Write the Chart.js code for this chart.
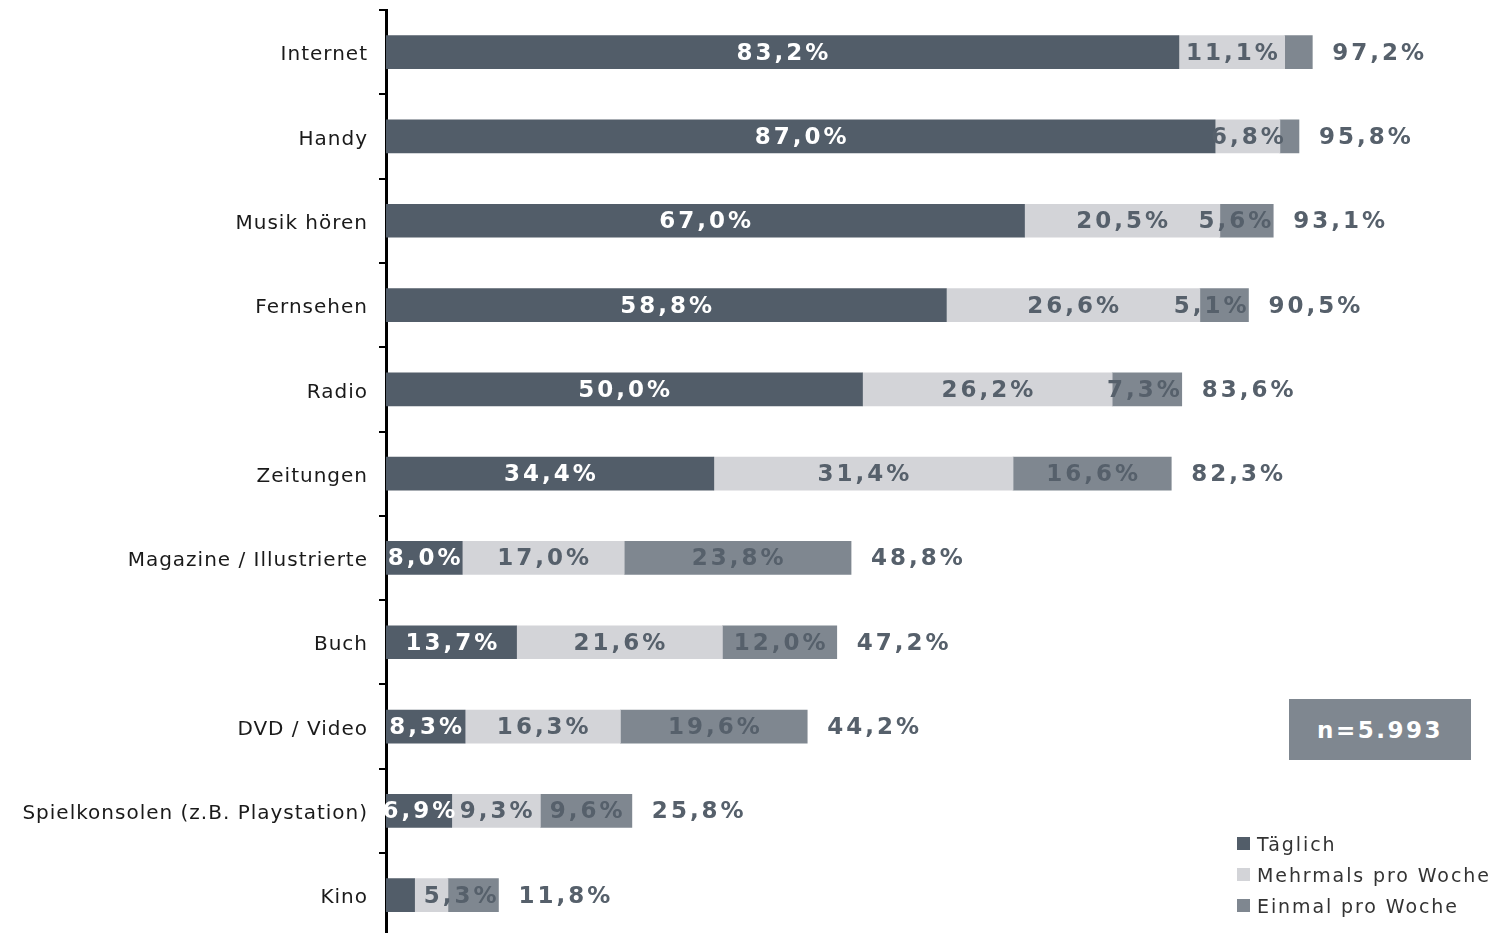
<!DOCTYPE html>
<html>
<head>
<meta charset="utf-8">
<script src="https://cdn.jsdelivr.net/npm/chart.js@4"></script>
<style>
  html, body { margin: 0; padding: 0; background: #fff; overflow: hidden; }
  #wrap { position: relative; width: 1495px; height: 940px; }
  #nbox { position: absolute; left: 1289px; top: 699px; width: 182px; height: 61px;
    background: #7F8790; color: #fff; font: bold 23px "DejaVu Sans", sans-serif; letter-spacing: 2.5px;
    display: flex; align-items: center; justify-content: center; }
  #legend { position: absolute; left: 1237px; top: 828px; font: 19px "DejaVu Sans", sans-serif;
    letter-spacing: 1.9px; color: #333; white-space: nowrap; }
  .li { height: 31px; display: flex; align-items: center; }
  .sw { width: 13px; height: 13px; margin-right: 7px; flex: none; }
</style>
</head>
<body>
<div id="wrap">
  <canvas id="c" width="1495" height="940"></canvas>
  <div id="nbox">n=5.993</div>
  <div id="legend"></div>
</div>
<script>
const categories = ['Internet', 'Handy', 'Musik hören', 'Fernsehen', 'Radio', 'Zeitungen',
  'Magazine / Illustrierte', 'Buch', 'DVD / Video', 'Spielkonsolen (z.B. Playstation)', 'Kino'];
const seriesNames = ['Täglich', 'Mehrmals pro Woche', 'Einmal pro Woche'];
const taeglich = [83.2, 87.0, 67.0, 58.8, 50.0, 34.4, 8.0, 13.7, 8.3, 6.9, 3.0];
const mehrmals = [11.1, 6.8, 20.5, 26.6, 26.2, 31.4, 17.0, 21.6, 16.3, 9.3, 3.5];
const einmal = [2.9, 2.0, 5.6, 5.1, 7.3, 16.6, 23.8, 12.0, 19.6, 9.6, 5.3];
const totals = [97.2, 95.8, 93.1, 90.5, 83.6, 82.3, 48.8, 47.2, 44.2, 25.8, 11.8];

const colors = ['#525D69', '#D3D4D8', '#7F8790'];
const labelGray = '#56606B';

function fmt(v) { return v.toFixed(1).replace('.', ',') + '%'; }

// HTML legend
const legend = document.getElementById('legend');
seriesNames.forEach((n, i) => {
  const row = document.createElement('div');
  row.className = 'li';
  const sw = document.createElement('span');
  sw.className = 'sw';
  sw.style.background = colors[i];
  const t = document.createElement('span');
  t.textContent = n;
  row.appendChild(sw); row.appendChild(t);
  legend.appendChild(row);
});

const spacingPlugin = {
  id: 'spacing',
  beforeDraw(chart) { chart.ctx.letterSpacing = '1px'; }
};

const labelPlugin = {
  id: 'valueLabels',
  afterDatasetsDraw(chart) {
    const ctx = chart.ctx;
    ctx.save();
    ctx.font = 'bold 23px "DejaVu Sans"';
    ctx.letterSpacing = '3px';
    ctx.textBaseline = 'middle';
    chart.data.datasets.forEach((ds, i) => {
      const meta = chart.getDatasetMeta(i);
      meta.data.forEach((el, j) => {
        const v = ds.data[j];
        if (v < 4) return;
        const txt = fmt(v);
        const left = Math.min(el.x, el.base), right = Math.max(el.x, el.base);
        const w = ctx.measureText(txt).width;
        let x;
        if (i === 2 && w > right - left) {
          ctx.textAlign = 'right';
          x = right + 1;
        } else {
          ctx.textAlign = 'center';
          x = (left + right) / 2 + 1.5;
        }
        ctx.fillStyle = i === 0 ? '#ffffff' : labelGray;
        ctx.fillText(txt, x, el.y + 1.5);
      });
    });
    const last = chart.getDatasetMeta(2);
    ctx.textAlign = 'left';
    ctx.fillStyle = labelGray;
    totals.forEach((t, j) => {
      const el = last.data[j];
      ctx.fillText(fmt(t), el.x + 20, el.y + 1.5);
    });
    ctx.restore();
  }
};

new Chart(document.getElementById('c'), {
  type: 'bar',
  data: {
    labels: categories,
    datasets: [
      { label: seriesNames[0], data: taeglich, backgroundColor: colors[0] },
      { label: seriesNames[1], data: mehrmals, backgroundColor: colors[1] },
      { label: seriesNames[2], data: einmal, backgroundColor: colors[2] }
    ]
  },
  options: {
    indexAxis: 'y',
    responsive: false,
    animation: false,
    devicePixelRatio: 1,
    datasets: { bar: { barThickness: 33, borderWidth: 0 } },
    layout: { padding: { top: 10, right: 156, bottom: 2.7, left: 0 } },
    plugins: { legend: { display: false }, tooltip: { enabled: false } },
    scales: {
      x: { stacked: true, min: 0, max: 100, display: false },
      y: {
        stacked: true,
        type: 'category',
        offset: true,
        z: 1,
        afterFit(scale) { scale.width = 386; scale.paddingTop = 0; scale.paddingBottom = 0; },
        grid: { offset: true, drawOnChartArea: false, drawTicks: true, tickLength: 7, color: '#000', lineWidth: 2 },
        border: { display: true, color: '#000', width: 3 },
        ticks: { font: { family: 'DejaVu Sans', size: 20 }, color: '#1a1a1a', padding: 11, labelOffset: 3 }
      }
    }
  },
  plugins: [spacingPlugin, labelPlugin]
});
</script>
</body>
</html>
